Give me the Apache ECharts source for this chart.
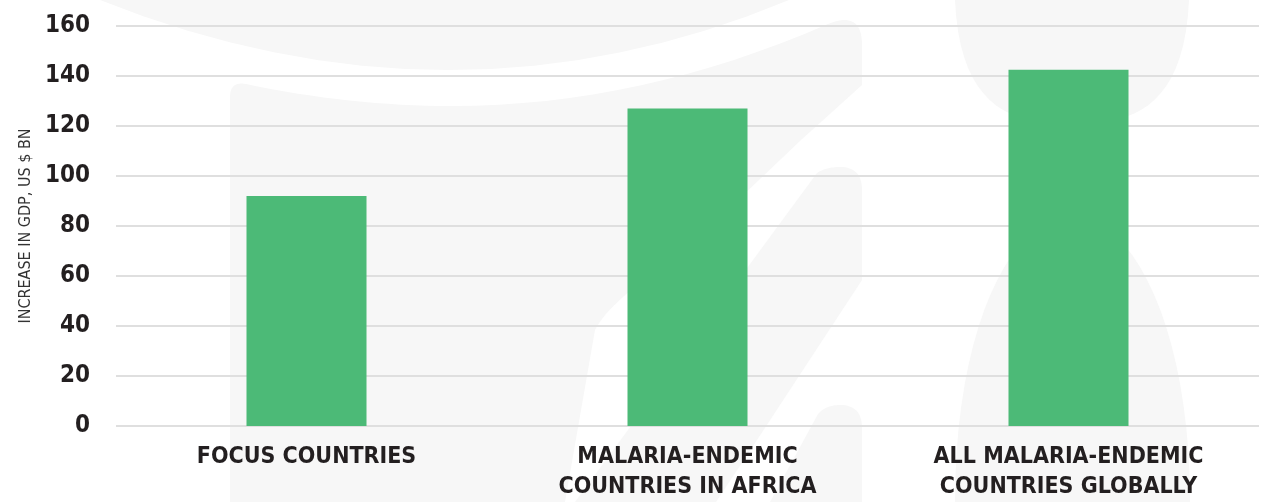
<!DOCTYPE html>
<html>
<head>
<meta charset="utf-8">
<script src="https://cdn.jsdelivr.net/npm/echarts@6/dist/echarts.min.js"></script>
<style>
  html, body { margin: 0; padding: 0; background: #fff; }
  #main { width: 1271px; height: 502px; }
</style>
</head>
<body>
<div id="main"></div>
<script>
// data
const categories = ['FOCUS COUNTRIES', 'MALARIA-ENDEMIC\nCOUNTRIES IN AFRICA', 'ALL MALARIA-ENDEMIC\nCOUNTRIES GLOBALLY']
const gdpIncrease = [92, 127, 142.5]
const axisTitle = 'INCREASE IN GDP, US $ BN'

const narrow = "'Liberation Sans Narrow', 'DejaVu Sans Condensed', 'Roboto', sans-serif"
const ghost = '#f7f7f7'

// faint logo shapes behind the chart (M/L/Q/C only)
const watermark = [
  'M 100 0 Q 452 140 789 0 Z',
  'M 230 502 L 230 97 Q 230 81 246 84 Q 350 106 452 106 Q 640 106 828 24 Q 862 10 862 45 L 862 85 L 801 140 L 680 255 Q 610 300 595 330 L 565 502 Z',
  'M 840 167 Q 862 167 862 190 L 862 280 L 757 440 L 716 502 L 575 502 L 817 173 Q 826 167 840 167 Z',
  'M 840 405 Q 862 405 862 428 L 862 502 L 770 502 L 818 414 Q 826 405 840 405 Z',
  'M 955 0 C 960 115 1020 124 1072 124 C 1124 124 1184 115 1189 0 Z',
  'M 955 502 C 955 330 1010 218 1072 214 C 1134 218 1190 330 1190 502 Z'
]

// turn a tiny path string into polygon points
function toPoints(d) {
    const tok = d.split(/\s+/)
    const pts = []
    let i = 0, cur = [0, 0]
    while (i < tok.length) {
        const c = tok[i++]
        if (c === 'Z') continue
        const n = () => parseFloat(tok[i++])
        if (c === 'M' || c === 'L') {
            cur = [n(), n()]
            pts.push(cur)
        } else if (c === 'Q') {
            const p1 = [n(), n()], p2 = [n(), n()], p0 = cur
            for (let k = 1; k <= 16; k++) {
                const t = k / 16, u = 1 - t
                pts.push([u * u * p0[0] + 2 * u * t * p1[0] + t * t * p2[0],
                          u * u * p0[1] + 2 * u * t * p1[1] + t * t * p2[1]])
            }
            cur = p2
        } else if (c === 'C') {
            const p1 = [n(), n()], p2 = [n(), n()], p3 = [n(), n()], p0 = cur
            for (let k = 1; k <= 20; k++) {
                const t = k / 20, u = 1 - t
                pts.push([u * u * u * p0[0] + 3 * u * u * t * p1[0] + 3 * u * t * t * p2[0] + t * t * t * p3[0],
                          u * u * u * p0[1] + 3 * u * u * t * p1[1] + 3 * u * t * t * p2[1] + t * t * t * p3[1]])
            }
            cur = p3
        }
    }
    return pts
}

let myChart = echarts.init(document.getElementById('main'))
myChart.setOption({
    animation: false,
    backgroundColor: '#fff',
    graphic: watermark.map(function (d) {
        return { type: 'polygon', silent: true, z: -10, shape: { points: toPoints(d) }, style: { fill: ghost } }
    }),
    grid: {
        left: 116,
        right: 12,
        top: 26,
        bottom: 75
    },
    xAxis: {
        type: 'category',
        data: categories,
        axisLine: { show: false },
        axisTick: { show: false },
        axisLabel: {
            interval: 0,
            margin: 16,
            color: '#231f20',
            fontFamily: narrow,
            fontWeight: 'bold',
            fontSize: 23,
            lineHeight: 30
        }
    },
    yAxis: {
        type: 'value',
        min: 0,
        max: 160,
        interval: 20,
        name: axisTitle,
        nameLocation: 'middle',
        nameRotate: 90,
        nameGap: 70,
        nameTextStyle: {
            color: '#333',
            fontFamily: narrow,
            fontSize: 16
        },
        axisLine: { show: false },
        axisTick: { show: false },
        axisLabel: {
            margin: 26,
            color: '#231f20',
            fontFamily: narrow,
            fontWeight: 'bold',
            fontSize: 24
        },
        splitLine: { lineStyle: { color: '#dfdfdf', width: 2 } }
    },
    series: [{
        type: 'bar',
        data: gdpIncrease,
        barWidth: 120,
        itemStyle: { color: '#4cba77' }
    }]
})
</script>
</body>
</html>
